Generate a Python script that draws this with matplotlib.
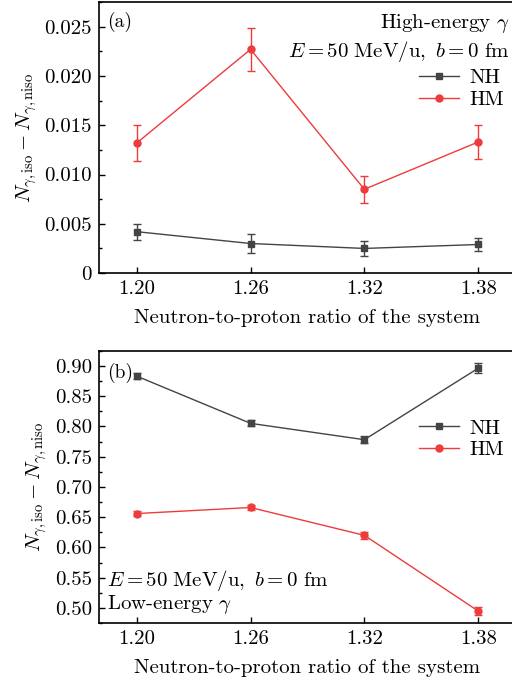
import matplotlib
matplotlib.use('Agg')
from matplotlib import pyplot as plt
from matplotlib.lines import Line2D
from matplotlib.ticker import MultipleLocator, FormatStrFormatter

plt.rcParams['font.family'] = ['cmr10', 'DejaVu Serif']
plt.rcParams['mathtext.fontset'] = 'cm'
plt.rcParams['axes.formatter.use_mathtext'] = True
plt.rcParams['axes.unicode_minus'] = False

ratio = [1.20, 1.26, 1.32, 1.38]
ratio_labels = ['1.20', '1.26', '1.32', '1.38']

# (a) high-energy gamma
high_nh = [0.0042, 0.0030, 0.0025, 0.0029]
high_nh_err = [0.0008, 0.0010, 0.0008, 0.0007]
high_hm = [0.0132, 0.0227, 0.0085, 0.0133]
high_hm_err = [0.0018, 0.0022, 0.0014, 0.0017]

# (b) low-energy gamma
low_nh = [0.883, 0.805, 0.778, 0.896]
low_nh_err = [0.005, 0.005, 0.006, 0.008]
low_hm = [0.656, 0.666, 0.620, 0.495]
low_hm_err = [0.004, 0.004, 0.006, 0.006]

gray = '#444444'
red = '#ef3b3b'
ylabel = r'$N_{\gamma,\mathrm{iso}} - N_{\gamma,\mathrm{niso}}$'
xlabel = 'Neutron-to-proton ratio of the system'
cond = r'$E = 50\ \mathrm{MeV/u},\ b = 0\ \mathrm{fm}$'
fs = 15

fig = plt.figure(figsize=(5.12, 6.81), dpi=100)
ax1 = fig.add_axes([0.193, 0.599, 0.815, 0.398])
ax2 = fig.add_axes([0.193, 0.085, 0.815, 0.400])


def draw(ax, nh, nh_err, hm, hm_err, anchor):
    ax.errorbar(ratio, nh, yerr=nh_err, color=gray, marker='s', markersize=5,
                lw=1, capsize=3, elinewidth=1, capthick=1)
    ax.errorbar(ratio, hm, yerr=hm_err, color=red, marker='o', markersize=5,
                lw=1, capsize=3, elinewidth=1, capthick=1)
    handles = [Line2D([], [], color=gray, marker='s', markersize=5, lw=1),
               Line2D([], [], color=red, marker='o', markersize=5, lw=1)]
    ax.legend(handles, ['NH', 'HM'], loc='upper right', bbox_to_anchor=anchor,
              frameon=False, fontsize=fs, handlelength=1.9,
              handletextpad=0.5, labelspacing=0.15, borderaxespad=0.2)
    ax.set_xlim(1.18, 1.40)
    ax.set_xticks(ratio)
    ax.set_xticklabels(ratio_labels)
    ax.set_xlabel(xlabel, fontsize=fs, labelpad=8)
    ax.set_ylabel(ylabel, fontsize=fs, labelpad=4)
    ax.tick_params(direction='in', labelsize=fs, length=4, width=1,
                   right=False, top=False, pad=5)
    ax.tick_params(which='minor', direction='in', length=2.5, width=1,
                   right=False, top=False)
    ax.spines['right'].set_visible(False)
    for s in ['left', 'top', 'bottom']:
        ax.spines[s].set_linewidth(1.2)


draw(ax1, high_nh, high_nh_err, high_hm, high_hm_err, (1.0, 0.80))
ax1.set_ylim(0, 0.0275)
ax1.yaxis.set_major_locator(MultipleLocator(0.005))
ax1.yaxis.set_minor_locator(MultipleLocator(0.0025))
ax1.yaxis.set_major_formatter(
    plt.FuncFormatter(lambda v, p: '0' if abs(v) < 1e-9 else f'{v:.3f}'))
ax1.text(0.02, 0.965, '(a)', transform=ax1.transAxes, fontsize=fs - 1,
         va='top', ha='left')
ax1.text(0.985, 0.965, r'High-energy $\gamma$', transform=ax1.transAxes,
         fontsize=fs, va='top', ha='right')
ax1.text(0.985, 0.865, cond, transform=ax1.transAxes,
         fontsize=fs, va='top', ha='right')

draw(ax2, low_nh, low_nh_err, low_hm, low_hm_err, (1.0, 0.795))
ax2.set_ylim(0.475, 0.925)
ax2.yaxis.set_major_locator(MultipleLocator(0.05))
ax2.yaxis.set_minor_locator(MultipleLocator(0.025))
ax2.yaxis.set_major_formatter(FormatStrFormatter('%.2f'))
ax2.text(0.02, 0.955, '(b)', transform=ax2.transAxes, fontsize=fs - 1,
         va='top', ha='left')
ax2.text(0.02, 0.158, cond, transform=ax2.transAxes,
         fontsize=fs, va='center', ha='left')
ax2.text(0.02, 0.07, r'Low-energy $\gamma$', transform=ax2.transAxes,
         fontsize=fs, va='center', ha='left')

fig.savefig('out.png', dpi=100)
